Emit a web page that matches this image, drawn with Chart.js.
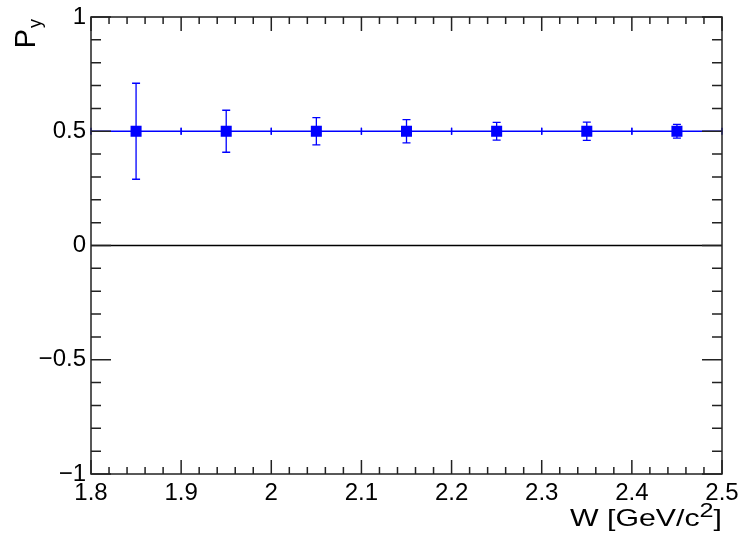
<!DOCTYPE html>
<html>
<head>
<meta charset="utf-8">
<script src="https://cdn.jsdelivr.net/npm/chart.js@4/dist/chart.umd.min.js"></script>
<style>
  html, body { margin: 0; padding: 0; background: #fff; }
  #wrap { width: 739px; height: 539px; }
</style>
</head>
<body>
<div id="wrap"><canvas id="pyChart" width="739" height="539"></canvas></div>
<script>
  // W bin centres, half widths and the measured polarisation with its errors
  const wBins = [1.85, 1.95, 2.05, 2.15, 2.25, 2.35, 2.45];
  const wHalfWidth = [0.05, 0.05, 0.05, 0.05, 0.05, 0.05, 0.05];
  const pyValues = [0.5, 0.5, 0.5, 0.5, 0.5, 0.5, 0.5];
  const pyErrors = [0.21, 0.092, 0.06, 0.051, 0.039, 0.04, 0.03];

  const xTitle = 'W [GeV/c';
  const xTitleSup = '2';
  const yTitle = 'P';
  const yTitleSub = 'y';

  const FONT = '"Liberation Sans", Arial, Helvetica, sans-serif';
  const BLUE = '#0000ff';

  const fmtTick = v => {
    const s = Number(v.toFixed(2)).toString();
    return s.replace('-', '\u2212');
  };

  // ROOT-like frame: inward ticks on all four sides, zero line, error bars, titles
  const rootFrame = {
    id: 'rootFrame',
    beforeDatasetsDraw(chart) {
      const { ctx, chartArea: a, scales: { x, y } } = chart;
      ctx.save();

      // y = 0 line
      ctx.strokeStyle = '#000';
      ctx.lineWidth = 1.5;
      ctx.beginPath();
      ctx.moveTo(a.left, y.getPixelForValue(0));
      ctx.lineTo(a.right, y.getPixelForValue(0));
      ctx.stroke();

      // error bars
      ctx.strokeStyle = BLUE;
      ctx.lineWidth = 1.3;
      wBins.forEach((w, i) => {
        const px = x.getPixelForValue(w);
        const py = y.getPixelForValue(pyValues[i]);
        const x0 = x.getPixelForValue(w - wHalfWidth[i]);
        const x1 = x.getPixelForValue(w + wHalfWidth[i]);
        const yt = y.getPixelForValue(pyValues[i] + pyErrors[i]);
        const yb = y.getPixelForValue(pyValues[i] - pyErrors[i]);
        ctx.beginPath();
        ctx.moveTo(x0, py); ctx.lineTo(x1, py);
        ctx.moveTo(x0, py - 3.5); ctx.lineTo(x0, py + 3.5);
        ctx.moveTo(x1, py - 3.5); ctx.lineTo(x1, py + 3.5);
        ctx.moveTo(px, yt); ctx.lineTo(px, yb);
        ctx.moveTo(px - 4, yt); ctx.lineTo(px + 4, yt);
        ctx.moveTo(px - 4, yb); ctx.lineTo(px + 4, yb);
        ctx.stroke();
      });
      ctx.restore();
    },
    afterDraw(chart) {
      const { ctx, chartArea: a, scales: { x, y } } = chart;
      ctx.save();
      ctx.strokeStyle = '#222';
      ctx.lineWidth = 1.5;
      ctx.strokeRect(a.left, a.top, a.right - a.left, a.bottom - a.top);

      ctx.beginPath();
      // x ticks, bottom and top
      for (let k = 0; k <= 35; k++) {
        const v = x.min + k * 0.02;
        const px = x.getPixelForValue(v);
        const len = k % 5 === 0 ? 14 : 7;
        ctx.moveTo(px, a.bottom); ctx.lineTo(px, a.bottom - len);
        ctx.moveTo(px, a.top); ctx.lineTo(px, a.top + len);
      }
      // y ticks, left and right
      for (let k = 0; k <= 20; k++) {
        const v = y.min + k * 0.1;
        const py = y.getPixelForValue(v);
        const len = k % 5 === 0 ? 20 : 10;
        ctx.moveTo(a.left, py); ctx.lineTo(a.left + len, py);
        ctx.moveTo(a.right, py); ctx.lineTo(a.right - len, py);
      }
      ctx.stroke();

      // x title, right aligned with a superscript, stretched like the ROOT text
      ctx.fillStyle = '#000';
      ctx.textBaseline = 'alphabetic';
      ctx.font = '24px ' + FONT;
      const wMain = ctx.measureText(xTitle).width;
      const wBr = ctx.measureText(']').width;
      ctx.font = '20px ' + FONT;
      const wSup = ctx.measureText(xTitleSup).width;
      const total = wMain + wSup + wBr;
      const sx = 152 / total;
      ctx.save();
      ctx.translate(a.right - 152, 0);
      ctx.scale(sx, 1);
      ctx.font = '24px ' + FONT;
      ctx.fillText(xTitle, 0, 526);
      ctx.font = '20px ' + FONT;
      ctx.fillText(xTitleSup, wMain, 517);
      ctx.font = '24px ' + FONT;
      ctx.fillText(']', wMain + wSup, 526);
      ctx.restore();

      // y title, rotated, with a subscript
      ctx.translate(35, 19);
      ctx.rotate(-Math.PI / 2);
      ctx.font = '18px ' + FONT;
      const wSub = ctx.measureText(yTitleSub).width;
      ctx.textAlign = 'right';
      ctx.fillText(yTitleSub, 0, 6);
      ctx.font = '29px ' + FONT;
      ctx.fillText(yTitle, -wSub - 1, 0);
      ctx.restore();
    }
  };

  new Chart(document.getElementById('pyChart'), {
    type: 'scatter',
    data: {
      datasets: [{
        label: 'P_y',
        data: wBins.map((w, i) => ({ x: w, y: pyValues[i] })),
        backgroundColor: BLUE,
        borderWidth: 0,
        pointStyle: 'rect',
        pointRadius: 7.8,
        pointHoverRadius: 7.8
      }]
    },
    options: {
      responsive: false,
      animation: false,
      events: [],
      layout: { padding: { top: 17, right: 17, left: 0, bottom: 0 } },
      plugins: { legend: { display: false }, tooltip: { enabled: false } },
      scales: {
        x: {
          type: 'linear', min: 1.8, max: 2.5,
          grid: { display: false, drawTicks: false },
          border: { display: false },
          ticks: {
            stepSize: 0.1, autoSkip: false, maxRotation: 0, padding: 5,
            color: '#000', font: { family: FONT, size: 24 },
            callback: v => fmtTick(v)
          },
          afterFit: s => { s.height = 65; s.paddingLeft = 0; s.paddingRight = 0; }
        },
        y: {
          type: 'linear', min: -1, max: 1,
          grid: { display: false, drawTicks: false },
          border: { display: false },
          ticks: {
            stepSize: 0.5, padding: 5,
            color: '#000', font: { family: FONT, size: 24 },
            callback: v => fmtTick(v)
          },
          afterFit: s => { s.width = 91; s.paddingTop = 0; s.paddingBottom = 0; }
        }
      }
    },
    plugins: [rootFrame]
  });
</script>
</body>
</html>
